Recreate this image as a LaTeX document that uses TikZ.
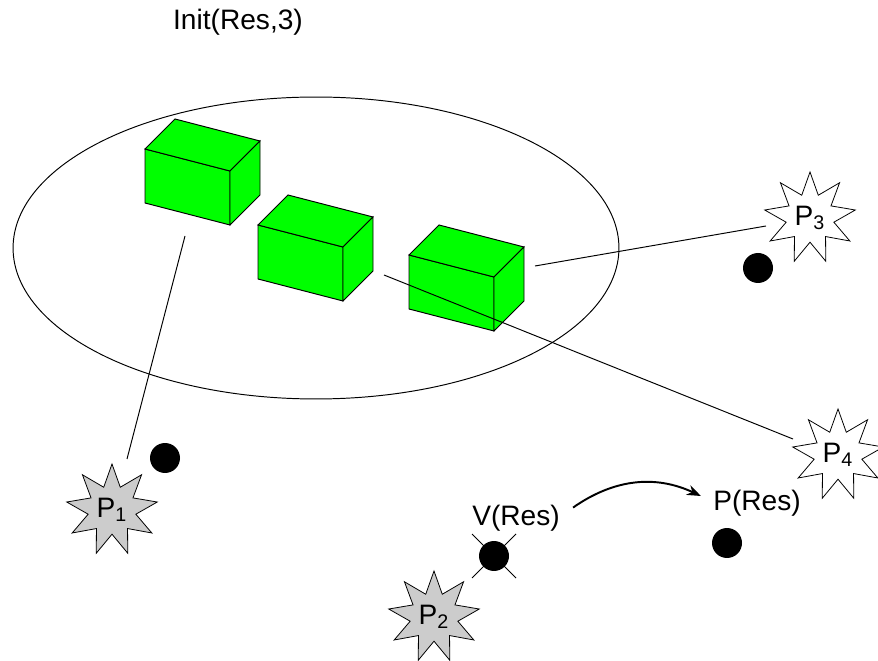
\documentclass[tikz,border=0pt]{standalone}
\usepackage{fontspec}
\setmainfont{Liberation Sans}
\usetikzlibrary{shapes.geometric, arrows.meta}
\newcommand\boxw{85}
\newcommand\boxh{54}
\newcommand\boxskew{22}
\newcommand\boxdepth{30}
\newcommand\starsize{1.84cm}
\newcommand\dotsize{0.6cm}

% one green resource block, #1 = upper left corner of its front face
\newcommand\resbox[1]{%
	\draw[fill=green] (#1) -- ++(\boxw,\boxskew) -- ++(0,\boxh) -- ++(-\boxw,-\boxskew) -- cycle;
	\draw[fill=green] (#1) -- ++(\boxdepth,-\boxdepth) -- ++(\boxw,\boxskew) -- ++(-\boxdepth,\boxdepth) -- cycle;
	\draw[fill=green] (#1) ++(\boxw,\boxskew) -- ++(\boxdepth,-\boxdepth) -- ++(0,\boxh) -- ++(-\boxdepth,\boxdepth) -- cycle;}

\begin{document}
\begin{tikzpicture}[>={Stealth[length=8pt, width=6pt]}, x=0.02cm, y=-0.02cm, line width=0.55pt]
	\tikzstyle{every node}=[font=\fontsize{16}{19}\selectfont]
	\tikzstyle{proc}=[star, star points=9, star point ratio=1.9, draw, minimum size=\starsize, inner sep=0pt, line width=0.45pt]
	\tikzstyle{token}=[circle, fill=black, inner sep=0pt, minimum size=\dotsize]

	\useasboundingbox (0,0) rectangle (878,661);
	\clip (0,0) rectangle (878,661);

	\node (init) at (238,22) {Init(Res,3)};

	%pool
	\draw (316,248) ellipse [x radius=6.06cm, y radius=3.02cm];

	%boxes
	\coordinate (b1) at (145,149);
	\coordinate (b2) at (258,225);
	\coordinate (b3) at (409,255);
	\resbox{b1}
	\resbox{b2}
	\resbox{b3}

	% processes
	\node[proc, fill=gray!40] (P1) at (112,510) {P\textsubscript{1}};
	\node[proc, fill=gray!40] (P2) at (434,617) {P\textsubscript{2}};
	\node[proc, fill=white] (P3) at (810,218) {P\textsubscript{3}};
	\node[proc, fill=white] (P4) at (838,455) {P\textsubscript{4}};

	% tokens
	\node[token] (t1) at (165,458) {};
	\node[token] (t3) at (758,268) {};
	\node[token] (tp) at (727,543) {};

	%links between blocks and processes
	\coordinate (l1a) at (185,236);
	\coordinate (l1b) at (127,459);
	\coordinate (l3a) at (535,266);
	\coordinate (l3b) at (766,226);
	\coordinate (l4a) at (384,275);
	\coordinate (l4b) at (793,439);
	\draw (l1a) -- (l1b);
	\draw (l3a) -- (l3b);
	\draw (l4a) -- (l4b);

	%V and P
	\coordinate (tv) at (494,556);
	\draw (tv) +(-22,-22) -- +(22,22);
	\draw (tv) +(22,-22) -- +(-22,22);
	\node[token] (tvdot) at (tv) {};
	\node (Vres) at (516,518) {V(Res)};
	\node (Pres) at (757,503) {P(Res)};
	\draw[->, line width=1.1pt] ([shift={(7,9)}]Vres.north east) to[out=35, in=155] ([shift={(-6,-7)}]Pres.west);
\end{tikzpicture}
\end{document}
